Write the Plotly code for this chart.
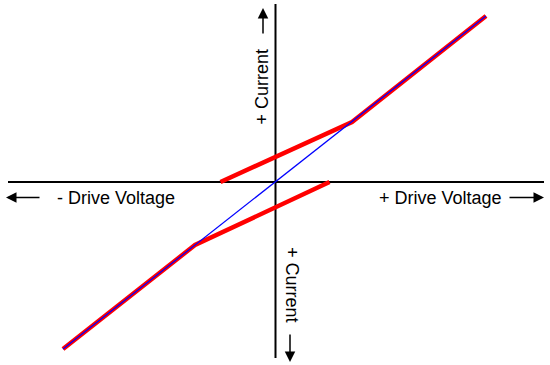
import plotly.graph_objects as go

# Data (arbitrary units; origin at the crossing of the axes)
linear_v = [-212.5, 210.5]
linear_i = [-167, 166]

upper_branch_v = [-55, 76.5, 210.5]
upper_branch_i = [0, 60, 166]

lower_branch_v = [-212.5, -80.5, 54]
lower_branch_i = [-167, -63, 0]

axis_x_span = [-267.5, 268.5]
axis_y_span = [178, -176]

fig = go.Figure()

# axes
fig.add_trace(go.Scatter(x=axis_x_span, y=[0, 0], mode="lines",
                         line=dict(color="black", width=2), hoverinfo="skip"))
fig.add_trace(go.Scatter(x=[0, 0], y=axis_y_span, mode="lines",
                         line=dict(color="black", width=2), hoverinfo="skip"))

# red hysteresis branches
fig.add_trace(go.Scatter(x=upper_branch_v, y=upper_branch_i, mode="lines",
                         line=dict(color="#ff0000", width=4.5)))
fig.add_trace(go.Scatter(x=lower_branch_v, y=lower_branch_i, mode="lines",
                         line=dict(color="#ff0000", width=4.5)))
# blue linear line
fig.add_trace(go.Scatter(x=linear_v, y=linear_i, mode="lines",
                         line=dict(color="#0000ff", width=1.2)))

font = dict(family="Liberation Sans, Arial, sans-serif", size=18, color="black")

# arrows
arrows = [
    dict(x=-269.5, y=-15.5, ax=-234.5, ay=-15.5),
    dict(x=268.5, y=-15.5, ax=232.5, ay=-15.5),
    dict(x=-12.5, y=174, ax=-12.5, ay=147),
    dict(x=14.5, y=-180, ax=14.5, ay=-151),
]
for a in arrows:
    fig.add_annotation(x=a["x"], y=a["y"], ax=a["ax"], ay=a["ay"],
                       xref="x", yref="y", axref="x", ayref="y",
                       showarrow=True, arrowhead=2, arrowsize=1.4,
                       arrowwidth=1.5, arrowcolor="black", text="")

labels = [
    dict(text="- Drive Voltage", x=-159.5, y=-16, angle=0),
    dict(text="+ Drive Voltage", x=164.5, y=-16, angle=0),
    dict(text="+ Current", x=-14.5, y=95.5, angle=-90),
    dict(text="+ Current", x=16.5, y=-103, angle=90),
]
for l in labels:
    fig.add_annotation(x=l["x"], y=l["y"], text=l["text"], textangle=l["angle"],
                       showarrow=False, font=font, xref="x", yref="y")

fig.update_layout(
    width=550, height=365,
    margin=dict(l=0, r=0, t=0, b=0),
    paper_bgcolor="white", plot_bgcolor="white",
    showlegend=False,
    xaxis=dict(range=[-275.5, 274.5], visible=False, fixedrange=True),
    yaxis=dict(range=[-183, 182], visible=False, fixedrange=True),
)

fig.write_html("out.html", config={"displayModeBar": False},
               post_script="document.body.style.margin='0';document.body.style.overflow='hidden';")
